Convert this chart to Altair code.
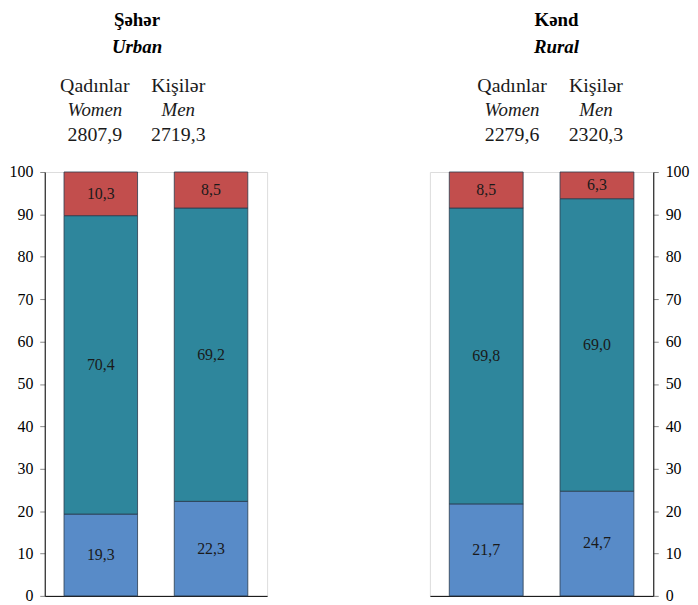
import altair as alt
import pandas as pd

categories = ["Qadınlar", "Kişilər"]
english = ["Women", "Men"]
segments = ["Əmək qabiliyyətli yaşdan aşağı", "Əmək qabiliyyətli yaşda", "Əmək qabiliyyətli yaşdan yuxarı"]
urban_totals = ["2807,9", "2719,3"]
rural_totals = ["2279,6", "2320,3"]
urban_low = [19.3, 22.3]
urban_mid = [70.4, 69.2]
urban_high = [10.3, 8.5]
rural_low = [21.7, 24.7]
rural_mid = [69.8, 69.0]
rural_high = [8.5, 6.3]
colors = ["#588BC8", "#2E869C", "#C24E4D"]
y_ticks = list(range(0, 101, 10))

FONT = "Times New Roman, Liberation Serif, DejaVu Serif, serif"


def make_df(low, mid, high):
    rows = []
    for i, c in enumerate(categories):
        for k, (s, v) in enumerate(zip(segments, [low[i], mid[i], high[i]])):
            rows.append({"cat": c, "seg": s, "order": k, "value": v,
                         "label": f"{v:.1f}".replace(".", ",")})
    return pd.DataFrame(rows)


def panel(low, mid, high, totals, title, subtitle, orient, hdx, tdx, width):
    df = make_df(low, mid, high)
    hdr = pd.DataFrame({"cat": categories, "eng": english, "total": totals})
    x = alt.X("cat:N", sort=categories,
              scale=alt.Scale(domain=categories, paddingInner=0.333, paddingOuter=0.175),
              axis=alt.Axis(labels=False, ticks=False, title=None,
                            domainColor="black", domainWidth=1))
    yaxis = alt.Axis(orient=orient, values=y_ticks, grid=False, title=None,
                     domainColor="black", domainWidth=1, tickColor="#888888",
                     tickSize=5, labelPadding=7, labelFont=FONT, labelFontSize=16,
                     labelColor="black")
    yscale = alt.Scale(domain=[0, 100], nice=False)
    base = alt.Chart(df).transform_stack(
        stack="value", groupby=["cat"], sort=[alt.SortField("order")], as_=["y0", "y1"]
    ).transform_calculate(mid="(datum.y0 + datum.y1) / 2")
    bars = base.mark_bar(stroke="#2a3b4d", strokeWidth=0.8).encode(
        x=x,
        y=alt.Y("y0:Q", scale=yscale, axis=yaxis),
        y2="y1:Q",
        color=alt.Color("seg:N", scale=alt.Scale(domain=segments, range=colors), legend=None),
    )
    labels = base.mark_text(font=FONT, fontSize=16, color="#1a1a1a", baseline="middle").encode(
        x=x, y=alt.Y("mid:Q", scale=yscale, axis=yaxis), text="label:N"
    )
    layers = [bars, labels]
    for i, c in enumerate(categories):
        h = alt.Chart(hdr).transform_filter(alt.datum.cat == c)
        layers.append(h.mark_text(font=FONT, fontSize=20, color="#1a1a1a", baseline="alphabetic", dx=hdx[i]).encode(
            x=x, y=alt.value(-81), text="cat:N"))
        layers.append(h.mark_text(font=FONT, fontSize=19, fontStyle="italic", color="#1a1a1a", baseline="alphabetic", dx=hdx[i]).encode(
            x=x, y=alt.value(-56), text="eng:N"))
        layers.append(h.mark_text(font=FONT, fontSize=20, color="#1a1a1a", baseline="alphabetic", dx=hdx[i]).encode(
            x=x, y=alt.value(-31), text="total:N"))
    return alt.layer(*layers).properties(
        width=width, height=427,
        title=alt.TitleParams(
            text=title, subtitle=subtitle, font=FONT, fontSize=19, fontWeight="bold",
            color="black", subtitleFont=FONT, subtitleFontSize=19,
            subtitleFontStyle="italic", subtitleFontWeight="bold", subtitleColor="black",
            anchor="middle", dx=tdx, offset=19, subtitlePadding=8,
        ),
    )


left = panel(urban_low, urban_mid, urban_high, urban_totals, "Şəhər", "Urban", "left",
             [-6, -33], -19, 224)
right = panel(rural_low, rural_mid, rural_high, rural_totals, "Kənd", "Rural", "right",
              [26, -1], 15, 225)

chart = alt.hconcat(left, right, spacing=162).properties(
    padding={"left": 0, "top": 0, "right": 0, "bottom": 0}
).configure_view(stroke="#a6a6a6", strokeWidth=1).configure(background="white")

chart.save("out.html", embed_options={"renderer": "svg", "actions": False})
